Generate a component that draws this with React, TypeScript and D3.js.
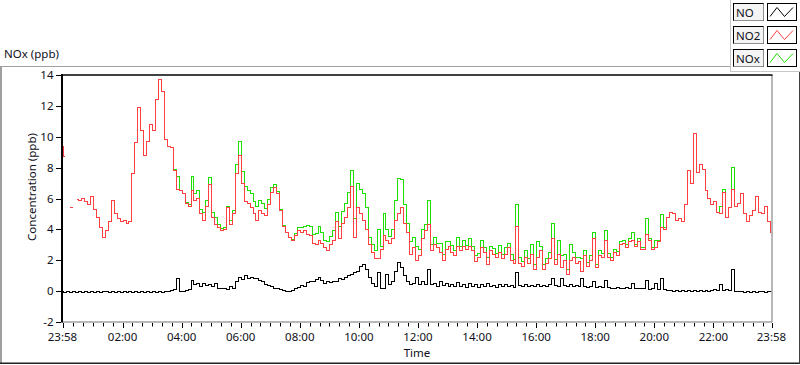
import React from 'react';
import * as d3 from 'd3';

// sampling step of the series (minutes since 23:58 of the previous day)
const STEP_MIN = 6;

const NO2: (number | null)[] = [
  9.4, 8.7, null, 5.4, null, 5.95, 5.9, 6.0, 5.8, 5.6,
  6.1, 5.3, 4.8, 4.1, 3.5, 3.9, 4.5, 5.9, 5.0, 4.7,
  4.5, 4.6, 4.4, 4.5, 7.6, 9.6, 11.9, 10.4, 8.8, 9.7,
  10.8, 10.4, 12.4, 13.7, 12.9, 9.8, 9.4, 9.3, 7.8, 6.6,
  6.5, 6.3, 5.7, 5.5, 6.5, 5.9, 6.0, 5.0, 4.6, 5.5,
  6.9, 4.8, 4.3, 4.1, 3.9, 4.0, 5.4, 4.3, 5.0, 7.6,
  8.8, 7.0, 5.8, 5.7, 5.4, 5.0, 4.6, 5.2, 5.0, 4.9,
  5.6, 6.4, 6.7, 6.3, 5.2, 4.2, 3.8, 3.5, 3.3, 3.6,
  3.9, 3.8, 3.9, 3.7, 3.6, 3.1, 3.0, 3.3, 3.1, 2.8,
  2.6, 3.0, 3.3, 4.5, 3.4, 4.4, 4.8, 5.4, 6.8, 3.5,
  5.4, 5.0, 4.6, 4.0, 3.0, 2.5, 2.1, 2.1, 2.7, 3.6,
  3.3, 3.1, 3.4, 4.6, 5.0, 5.4, 4.4, 3.8, 2.4, 2.8,
  2.0, 2.3, 3.4, 3.9, 4.3, 2.6, 3.0, 2.8, 2.5, 2.0,
  2.7, 2.9, 2.5, 2.3, 2.9, 2.6, 2.9, 2.7, 2.9, 2.6,
  1.9, 2.2, 2.8, 2.5, 1.7, 2.6, 2.4, 2.2, 2.5, 2.1,
  2.4, 2.8, 2.0, 1.8, 4.2, 1.8, 1.6, 2.2, 1.8, 2.4,
  1.4, 2.2, 2.6, 1.4, 1.8, 2.1, 3.4, 1.7, 2.4, 1.5,
  2.0, 1.1, 2.0, 2.2, 1.8, 1.9, 1.3, 2.3, 1.6, 2.0,
  3.4, 1.5, 2.3, 2.2, 3.3, 2.2, 2.0, 2.5, 2.3, 3.0,
  3.1, 2.8, 3.2, 3.3, 2.9, 3.2, 2.7, 2.7, 3.7, 3.3,
  2.7, 2.8, 3.2, 4.1, 4.0, 4.8, 5.1, 5.0, 4.6, 4.7,
  4.5, 5.6, 7.8, 7.0, 10.2, 7.7, 8.2, 7.9, 6.5, 6.0,
  5.6, 5.8, 5.1, 5.0, 6.4, 4.8, 5.4, 6.6, 5.5, 5.7,
  6.3, 5.0, 4.5, 4.9, 5.2, 6.1, 5.1, 5.0, 5.5, 4.5, 3.8,
];

const NOX: (number | null)[] = [
  9.4, 8.7, null, 5.4, null, 5.95, 5.9, 6.0, 5.8, 5.6,
  6.1, 5.3, 4.8, 4.1, 3.5, 3.9, 4.5, 5.9, 5.0, 4.7,
  4.5, 4.6, 4.4, 4.5, 7.6, 9.6, 11.9, 10.4, 8.8, 9.7,
  10.8, 10.4, 12.4, 13.7, 12.9, 9.8, 9.4, 9.3, 7.85, 7.4,
  6.5, 6.3, 5.75, 5.6, 7.4, 6.3, 6.5, 5.3, 5.1, 5.85,
  7.35, 5.1, 4.8, 4.3, 4.05, 4.15, 5.5, 4.6, 5.2, 8.2,
  9.7, 7.75, 6.8, 6.5, 6.3, 5.8, 5.45, 5.9, 5.65, 5.35,
  5.95, 6.7, 6.9, 6.45, 5.3, 4.25, 3.8, 3.5, 3.35, 3.75,
  4.15, 4.15, 4.2, 4.25, 4.2, 3.7, 3.75, 4.2, 3.8, 3.3,
  3.2, 3.55, 3.95, 5.1, 4.2, 5.15, 5.7, 6.4, 7.8, 4.7,
  7.0, 6.6, 6.3, 5.4, 3.5, 3.0, 2.6, 4.0, 2.9, 5.0,
  4.0, 3.55, 4.0, 5.9, 7.3, 7.2, 5.6, 4.4, 3.2, 3.5,
  2.9, 2.7, 4.0, 4.3, 5.9, 3.0, 3.5, 3.1, 3.1, 2.35,
  3.2, 3.2, 2.95, 2.6, 3.45, 2.9, 3.3, 2.95, 3.4, 2.9,
  2.3, 2.45, 3.25, 2.8, 2.2, 2.9, 2.75, 2.45, 2.95, 2.4,
  2.8, 3.1, 2.35, 2.05, 5.6, 2.15, 1.9, 2.65, 2.1, 3.0,
  1.7, 3.2, 2.9, 1.75, 2.1, 2.5, 4.4, 2.05, 3.3, 2.3,
  2.35, 1.4, 3.0, 2.5, 2.15, 2.2, 2.1, 2.6, 1.85, 2.3,
  3.8, 1.75, 2.6, 2.45, 3.9, 2.45, 2.2, 2.7, 2.55, 3.2,
  3.3, 3.05, 3.4, 3.8, 3.05, 3.4, 2.85, 2.85, 4.7, 3.4,
  2.85, 3.3, 3.3, 4.95, 4.1, 4.8, 5.1, 5.0, 4.6, 4.7,
  4.5, 5.6, 7.8, 7.0, 10.2, 7.7, 8.2, 7.9, 6.5, 6.0,
  5.6, 5.8, 5.1, 5.45, 6.6, 4.8, 5.4, 8.0, 5.5, 5.7,
  6.3, 5.0, 4.5, 4.9, 5.2, 6.1, 5.1, 5.0, 5.5, 4.5, 3.8,
];

const NO: (number | null)[] = [
  -0.05, -0.06, -0.05, -0.07, -0.05, -0.06, -0.05, -0.07, -0.05, -0.06,
  -0.05, -0.06, -0.05, -0.07, -0.05, -0.05, -0.06, -0.05, -0.07, -0.05,
  -0.06, -0.05, -0.07, -0.05, -0.06, -0.05, -0.07, -0.05, -0.06, -0.05,
  -0.06, -0.05, -0.07, -0.05, -0.06, -0.05, 0.0, 0.05, 0.1, 0.8,
  0.0, 0.0, 0.05, 0.1, 0.7, 0.4, 0.5, 0.3, 0.5, 0.35,
  0.45, 0.3, 0.5, 0.2, 0.15, 0.15, 0.1, 0.3, 0.2, 0.6,
  0.9, 0.75, 1.0, 0.8, 0.9, 0.8, 0.85, 0.7, 0.65, 0.45,
  0.35, 0.3, 0.2, 0.15, 0.1, 0.05, 0.0, -0.05, 0.05, 0.15,
  0.25, 0.35, 0.3, 0.55, 0.6, 0.6, 0.75, 0.9, 0.7, 0.5,
  0.6, 0.55, 0.65, 0.6, 0.8, 0.75, 0.9, 1.0, 1.1, 1.2,
  1.3, 1.6, 1.75, 1.4, 0.9, 0.5, 0.3, 1.2, 0.2, 0.2,
  1.1, 0.45, 0.6, 1.3, 1.85, 1.5, 1.0, 0.6, 0.45, 0.5,
  0.9, 0.4, 0.6, 0.4, 1.4, 0.4, 0.5, 0.3, 0.6, 0.35,
  0.5, 0.3, 0.45, 0.3, 0.55, 0.3, 0.4, 0.25, 0.5, 0.3,
  0.4, 0.25, 0.45, 0.3, 0.5, 0.3, 0.35, 0.25, 0.45, 0.3,
  0.4, 0.3, 0.35, 0.25, 1.2, 0.35, 0.3, 0.45, 0.3, 0.35,
  0.3, 0.4, 0.3, 0.35, 0.3, 0.4, 0.85, 0.35, 0.3, 0.8,
  0.35, 0.3, 0.45, 0.3, 0.35, 0.3, 0.8, 0.3, 0.25, 0.3,
  0.6, 0.25, 0.3, 0.25, 0.7, 0.25, 0.2, 0.2, 0.25, 0.2,
  0.2, 0.25, 0.2, 0.5, 0.15, 0.2, 0.15, 0.15, 0.7, 0.1,
  0.15, 0.5, 0.1, 0.85, 0.1, 0.05, 0.05, 0.0, 0.05, 0.0,
  0.05, 0.0, 0.05, 0.0, 0.05, 0.0, 0.05, 0.0, 0.05, 0.0,
  0.05, 0.1, 0.05, 0.45, 0.05, 0.1, 0.05, 1.4, 0.0, -0.05,
  -0.05, -0.06, -0.05, -0.07, -0.05, -0.06, -0.05, -0.05, -0.06, -0.05, -0.05,
];

const Y_TICKS = [14, 12, 10, 8, 6, 4, 2, 0, -2];
const X_LABELS = ['23:58', '02:00', '04:00', '06:00', '08:00', '10:00', '12:00', '14:00', '16:00', '18:00', '20:00', '22:00', '23:58'];
const X_LABEL_MIN = [0, 122, 242, 362, 482, 602, 722, 842, 962, 1082, 1202, 1322, 1440];
const LEGEND_NAMES = ['NO', 'NO2', 'NOx'];
const LEGEND_COLORS = ['#000000', '#ff4040', '#1ee000'];

const FONT = '"Noto Sans", "DejaVu Sans", sans-serif';
const TXT = '#101020';

export default function App() {
  const L = 62, R = 772, T = 75, B = 322;
  const x = d3.scaleLinear().domain([0, 1440]).range([L + 0.5, R - 0.5]);
  const y = d3.scaleLinear().domain([-2, 14]).range([B, T]);

  type P = [number, number | null];
  const toPts = (arr: (number | null)[]): P[] => arr.map((v, i) => [i * STEP_MIN, v]);
  const line = d3
    .line<P>()
    .defined((d) => d[1] != null)
    .x((d) => x(d[0]))
    .y((d) => y(d[1] as number))
    .curve(d3.curveStep);

  const isolated = (arr: (number | null)[]) =>
    arr
      .map((v, i) => ({ v, i }))
      .filter(({ v, i }) => v != null && (i === 0 || arr[i - 1] == null) && (i === arr.length - 1 || arr[i + 1] == null));

  const series = [
    { data: NOX, color: LEGEND_COLORS[2] },
    { data: NO2, color: LEGEND_COLORS[1] },
    { data: NO, color: LEGEND_COLORS[0] },
  ];

  const minor: number[] = d3.range(2, 1440, 20).filter((m) => !X_LABEL_MIN.includes(m));

  return (
    <svg
      width={800}
      height={365}
      style={{ position: 'absolute', left: 0, top: 0, background: '#fff' }}
      fontFamily={FONT}
    >
      <rect x={0} y={0} width={800} height={365} fill="#fff" />
      {/* outer frame */}
      <line x1={0} y1={66.5} x2={731} y2={66.5} stroke="#a0a0a0" />
      <line x1={1} y1={66} x2={1} y2={364} stroke="#a0a0a0" strokeWidth={2} />
      <line x1={0} y1={363.25} x2={800} y2={363.25} stroke="#202020" strokeWidth={1.5} />
      <line x1={799.5} y1={72} x2={799.5} y2={364} stroke="#404040" />
      <line x1={730.5} y1={0} x2={730.5} y2={72} stroke="#c8c8c8" />
      <line x1={730} y1={71.5} x2={800} y2={71.5} stroke="#c8c8c8" />

      {/* chart title */}
      <text x={4} y={58} fontSize={11.5} fill={TXT}>NOx (ppb)</text>

      {/* legend */}
      {LEGEND_NAMES.map((n, k) => {
        const top = 3.5 + k * 23;
        return (
          <g key={n}>
            <rect x={733.5} y={top} width={30} height={17} fill="#f4f4f4" stroke="#000" />
            <line x1={763.5} y1={top} x2={763.5} y2={top + 17} stroke="#909090" />
            <line x1={733.5} y1={top + 17} x2={763.5} y2={top + 17} stroke="#909090" />
            <text x={736} y={top + 13} fontSize={11.5} fill={TXT}>{n}</text>
            <rect x={767.5} y={top} width={29} height={17} fill="#fff" stroke="#000" />
            <polyline
              points={`770,${top + 13} 777,${top + 4} 784.5,${top + 13} 793,${top + 4}`}
              fill="none"
              stroke={LEGEND_COLORS[k]}
            />
          </g>
        );
      })}

      {/* plot area */}
      <defs>
        <clipPath id="plotclip">
          <rect x={L + 1} y={T + 1} width={R - L - 1.5} height={B - T - 1.5} />
        </clipPath>
      </defs>
      <rect x={L} y={T} width={R - L} height={B - T} fill="#fff" />
      <g clipPath="url(#plotclip)" shapeRendering="crispEdges">
        {series.map((s, k) => (
          <g key={k}>
            <path d={line(toPts(s.data)) || ''} fill="none" stroke={s.color} strokeWidth={1} />
            {isolated(s.data).map(({ v, i }) => (
              <line
                key={i}
                x1={x(i * STEP_MIN) - 1}
                x2={x(i * STEP_MIN) + 1.5}
                y1={y(v as number)}
                y2={y(v as number)}
                stroke={s.color}
              />
            ))}
          </g>
        ))}
      </g>
      <line x1={R} y1={T} x2={R} y2={B} stroke="#a0a0a0" strokeWidth={1.5} />
      <line x1={L} y1={B} x2={R} y2={B} stroke="#a0a0a0" strokeWidth={1.5} />
      <line x1={L} y1={T - 1} x2={L} y2={B + 0.5} stroke="#000" strokeWidth={2} />
      <line x1={L - 1} y1={T} x2={R + 0.5} y2={T} stroke="#000" strokeWidth={1.5} />

      {/* y axis */}
      {Y_TICKS.map((v) => (
        <g key={v}>
          <line x1={56} x2={61} y1={Math.round(y(v)) + 0.5} y2={Math.round(y(v)) + 0.5} stroke="#000" />
          <text x={53.5} y={y(v) + 4} fontSize={11.5} textAnchor="end" fill={TXT}>{v}</text>
        </g>
      ))}
      <text
        transform={`translate(36,187) rotate(-90)`}
        fontSize={11.5}
        textAnchor="middle"
        fill={TXT}
      >
        Concentration (ppb)
      </text>

      {/* x axis */}
      {minor.map((m) => (
        <line key={m} x1={Math.round(x(m)) + 0.5} x2={Math.round(x(m)) + 0.5} y1={323} y2={326.5} stroke="#000" />
      ))}
      {X_LABEL_MIN.map((m, k) => (
        <g key={k}>
          <line x1={Math.round(x(m)) + 0.5} x2={Math.round(x(m)) + 0.5} y1={323} y2={328} stroke="#000" />
          <text x={x(m)} y={341} fontSize={11.5} textAnchor="middle" fill={TXT}>{X_LABELS[k]}</text>
        </g>
      ))}
      <text x={(L + R) / 2} y={357} fontSize={11.5} textAnchor="middle" fill={TXT}>Time</text>
    </svg>
  );
}
